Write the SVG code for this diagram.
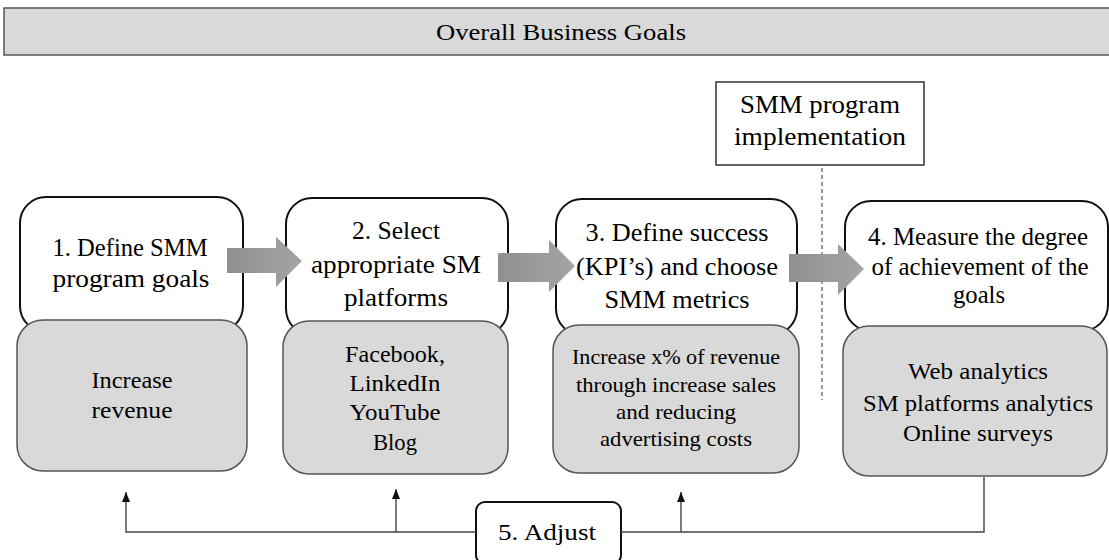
<svg xmlns="http://www.w3.org/2000/svg" width="1109" height="560" viewBox="0 0 1109 560">
  <style>
    text { font-family: "Liberation Serif", "Times New Roman", serif; fill: #000; text-anchor: middle; }
    .step { fill: #fff; stroke: #111; stroke-width: 2; }
    .detail { fill: #d9d9d9; stroke: #555; stroke-width: 1.5; }
    .big { font-size: 25px; }
    .mid { font-size: 23px; }
    .small { font-size: 21px; }
    .link { fill: none; stroke: #444; stroke-width: 1.4; }
    .block { fill: url(#arrowFill); }
  </style>
  <defs>
    <linearGradient id="arrowFill" x1="0" y1="0" x2="1" y2="0">
      <stop offset="0" stop-color="#909090"/>
      <stop offset="1" stop-color="#a4a4a4"/>
    </linearGradient>
    <marker id="head" viewBox="0 0 10 8" refX="10" refY="4" markerWidth="10" markerHeight="8" markerUnits="userSpaceOnUse" orient="auto">
      <path d="M0,0 L10,4 L0,8 Z" fill="#111"/>
    </marker>
  </defs>

  <!-- banner -->
  <g id="business-goals">
    <rect x="4" y="8" width="1110" height="47" fill="#d9d9d9" stroke="#555" stroke-width="1.5"/>
    <text x="561" y="40" font-size="23" textLength="250" lengthAdjust="spacingAndGlyphs">Overall Business Goals</text>
  </g>

  <!-- implementation label -->
  <g id="implementation">
    <rect x="716" y="82" width="208" height="83" fill="#fff" stroke="#333" stroke-width="1.5"/>
    <text class="big" x="820" y="113" textLength="160" lengthAdjust="spacingAndGlyphs">SMM program</text>
    <text class="big" x="820" y="145" textLength="172" lengthAdjust="spacingAndGlyphs">implementation</text>
  </g>

  <!-- step 1 -->
  <g id="step1">
    <rect class="step" x="20" y="197" width="223" height="135" rx="26"/>
    <text class="big" x="130" y="256" textLength="155" lengthAdjust="spacingAndGlyphs">1. Define SMM</text>
    <text class="big" x="131" y="287" textLength="157" lengthAdjust="spacingAndGlyphs">program goals</text>
    <rect class="detail" x="17" y="320" width="230" height="151" rx="26"/>
    <text class="mid" x="132" y="388" textLength="81" lengthAdjust="spacingAndGlyphs">Increase</text>
    <text class="mid" x="132" y="418" textLength="81" lengthAdjust="spacingAndGlyphs">revenue</text>
  </g>

  <!-- step 2 -->
  <g id="step2">
    <rect class="step" x="286" y="198" width="222" height="137" rx="26"/>
    <text class="big" x="396" y="239" textLength="88" lengthAdjust="spacingAndGlyphs">2. Select</text>
    <text class="big" x="396" y="273" textLength="170" lengthAdjust="spacingAndGlyphs">appropriate SM</text>
    <text class="big" x="396" y="306" textLength="104" lengthAdjust="spacingAndGlyphs">platforms</text>
    <rect class="detail" x="283" y="321" width="225" height="153" rx="26"/>
    <text class="mid" x="395" y="362" textLength="100" lengthAdjust="spacingAndGlyphs">Facebook,</text>
    <text class="mid" x="395" y="391" textLength="91" lengthAdjust="spacingAndGlyphs">LinkedIn</text>
    <text class="mid" x="395" y="420" textLength="91" lengthAdjust="spacingAndGlyphs">YouTube</text>
    <text class="mid" x="395" y="450" textLength="44" lengthAdjust="spacingAndGlyphs">Blog</text>
  </g>

  <!-- step 3 -->
  <g id="step3">
    <rect class="step" x="556" y="199" width="241" height="136" rx="26"/>
    <text class="big" x="677" y="241" textLength="183" lengthAdjust="spacingAndGlyphs">3. Define success</text>
    <text class="big" x="677" y="275" textLength="202" lengthAdjust="spacingAndGlyphs">(KPI’s) and choose</text>
    <text class="big" x="677" y="308" textLength="145" lengthAdjust="spacingAndGlyphs">SMM metrics</text>
    <rect class="detail" x="553" y="325" width="246" height="148" rx="26"/>
    <text class="small" x="676" y="364" textLength="208" lengthAdjust="spacingAndGlyphs">Increase x% of revenue</text>
    <text class="small" x="676" y="392" textLength="200" lengthAdjust="spacingAndGlyphs">through increase sales</text>
    <text class="small" x="676" y="419" textLength="120" lengthAdjust="spacingAndGlyphs">and reducing</text>
    <text class="small" x="676" y="446" textLength="152" lengthAdjust="spacingAndGlyphs">advertising costs</text>
  </g>

  <!-- step 4 -->
  <g id="step4">
    <rect class="step" x="845" y="201" width="263" height="130" rx="26"/>
    <text class="big" x="978" y="245" textLength="220" lengthAdjust="spacingAndGlyphs">4. Measure the degree</text>
    <text class="big" x="980" y="275" textLength="217" lengthAdjust="spacingAndGlyphs">of achievement of the</text>
    <text class="big" x="979" y="303" textLength="52" lengthAdjust="spacingAndGlyphs">goals</text>
    <rect class="detail" x="843" y="326" width="264" height="150" rx="26"/>
    <text class="mid" x="978" y="379" textLength="140" lengthAdjust="spacingAndGlyphs">Web analytics</text>
    <text class="mid" x="978" y="411" textLength="230" lengthAdjust="spacingAndGlyphs">SM platforms analytics</text>
    <text class="mid" x="978" y="441" textLength="150" lengthAdjust="spacingAndGlyphs">Online surveys</text>
  </g>

  <!-- step 5 -->
  <g id="step5">
    <rect x="476" y="502" width="145" height="62" rx="9" fill="#fff" stroke="#111" stroke-width="2"/>
    <text x="547" y="540" font-size="23" textLength="98" lengthAdjust="spacingAndGlyphs">5. Adjust</text>
  </g>

  <!-- connectors -->
  <g id="connectors">
    <line x1="822" y1="168" x2="822" y2="400" stroke="#555" stroke-width="1.2" stroke-dasharray="4,3"/>
    <path class="block" d="M227,248 H276 V237 L302,261 L276,287 V273 H227 Z"/>
    <path class="block" d="M498,253 H549 V240 L575,266 L549,292 V282 H498 Z"/>
    <path class="block" d="M789,254 H838 V244 L864,269 L838,295 V282 H789 Z"/>
    <path class="link" d="M984,477 V532 H621"/>
    <path class="link" d="M476,532 H126 V492" marker-end="url(#head)"/>
    <path class="link" d="M396,532 V489" marker-end="url(#head)"/>
    <path class="link" d="M681,532 V492" marker-end="url(#head)"/>
  </g>
</svg>
